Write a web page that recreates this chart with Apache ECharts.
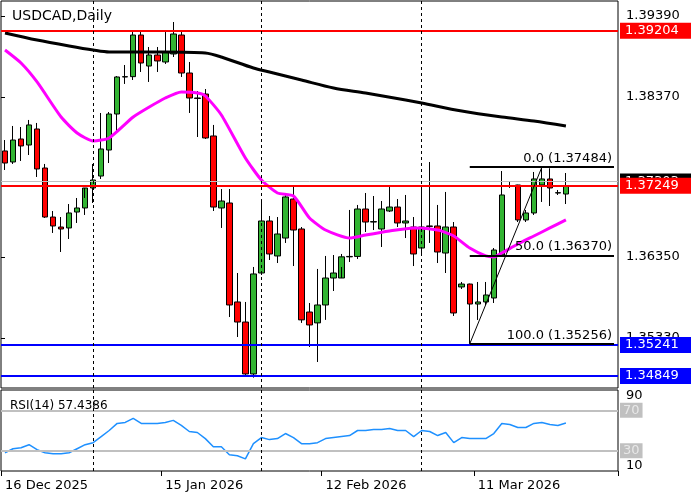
<!DOCTYPE html>
<html>
<head>
<meta charset="utf-8">
<script src="https://cdn.jsdelivr.net/npm/echarts@6/dist/echarts.min.js"></script>
<style>html,body{margin:0;padding:0;background:#fff}#chart{width:700px;height:500px}</style>
</head>
<body>
<div id="chart"></div>
<script>
/* USDCAD daily with MA, fibo and RSI(14) */
var tickDates = ['16 Dec 2025', '15 Jan 2026', '12 Feb 2026', '11 Mar 2026'];
var separators = [11, 32, 52];

var opens = [1.37688,1.37549,1.37839,1.37763,1.37965,1.37473,1.36855,1.36729,1.36717,1.36918,
  1.36969,1.37221,1.37372,1.37700,1.38154,1.38621,1.38625,1.39150,1.38759,1.38898,
  1.38810,1.38911,1.39150,1.38671,1.38356,1.38406,1.37877,1.36969,1.37032,1.35784,
  1.35531,1.34876,1.36149,1.36805,1.36364,1.36590,1.37082,1.36704,1.35657,1.35520,
  1.35746,1.36086,1.36086,1.36353,1.36358,1.36956,1.36792,1.36704,1.36931,1.36981,
  1.36780,1.36729,1.36464,1.36742,1.36742,1.36401,1.36729,1.35973,1.36010,1.35758,
  1.35784,1.35834,1.36376,1.37247,1.37259,1.36818,1.36906,1.37259,1.37335,1.37158,1.37145];
var closes = [1.37536,1.37826,1.37751,1.38016,1.37461,1.36855,1.36742,1.36704,1.36906,1.36969,
  1.37221,1.37322,1.37713,1.38154,1.38621,1.38625,1.39150,1.38797,1.38898,1.38823,
  1.38936,1.39163,1.38671,1.38356,1.38350,1.37852,1.36981,1.37057,1.35746,1.35531,
  1.34876,1.36137,1.36805,1.36389,1.36641,1.37108,1.36691,1.35558,1.35494,1.35746,
  1.36086,1.36149,1.36353,1.36358,1.36956,1.36792,1.36797,1.36956,1.36981,1.36780,
  1.36805,1.36389,1.36729,1.36737,1.36414,1.36729,1.35645,1.36010,1.35758,1.35784,
  1.35872,1.36439,1.37133,1.37250,1.36818,1.36906,1.37335,1.37335,1.37221,1.37162,1.37249];
var lows = [1.37448,1.37524,1.37562,1.37637,1.37360,1.36843,1.36654,1.36414,1.36578,1.36780,
  1.36881,1.37032,1.37335,1.37536,1.37915,1.38533,1.38583,1.38684,1.38558,1.38684,
  1.38785,1.38873,1.38621,1.38167,1.37864,1.37839,1.36931,1.36717,1.35594,1.35342,
  1.34863,1.34830,1.36124,1.36313,1.36275,1.36528,1.36237,1.35520,1.35216,1.35027,
  1.35558,1.35922,1.36225,1.36288,1.36326,1.36666,1.36691,1.36477,1.36918,1.36729,
  1.36590,1.36237,1.36376,1.36528,1.36275,1.36149,1.35607,1.35947,1.35256,1.35557,
  1.35746,1.35771,1.36370,1.37221,1.36792,1.36792,1.36881,1.37045,1.36994,1.37133,1.37019];
var highs = [1.37826,1.38003,1.37990,1.38079,1.38041,1.37524,1.36931,1.36855,1.37019,1.37095,
  1.37095,1.37524,1.38167,1.38179,1.38633,1.38772,1.39188,1.39188,1.38999,1.38999,
  1.39188,1.39314,1.39188,1.38810,1.38444,1.38469,1.38016,1.37208,1.37208,1.36149,
  1.35784,1.36225,1.37070,1.36868,1.36855,1.37133,1.37246,1.36729,1.35771,1.36200,
  1.36364,1.36376,1.36389,1.36944,1.37007,1.37158,1.37120,1.37057,1.37246,1.37082,
  1.37133,1.36855,1.37221,1.37549,1.37007,1.37171,1.36792,1.36036,1.36015,1.36036,
  1.36036,1.36464,1.37435,1.37297,1.37262,1.36944,1.37423,1.37484,1.37470,1.37196,1.37410];

// [candle index, value] samples
var maSlow = [[0,1.39176],[4,1.39087],[8,1.39012],[11,1.38961],[13,1.38936],[20,1.38936],[25,1.38923],
  [27,1.38873],[31,1.38734],[33,1.38684],[37,1.38583],[41,1.38482],[45,1.38419],[50,1.38331],
  [52,1.38293],[57,1.38192],[62,1.38116],[66,1.38066],[70,1.38003]];
var maFast = [[0,1.38961],[2,1.38797],[4,1.38558],[7,1.38116],[9,1.37915],[11,1.37814],[13,1.37852],
  [16,1.38116],[18,1.38242],[20,1.38356],[22,1.38432],[24,1.38419],[25,1.38381],[27,1.38142],
  [30,1.37599],[32,1.37322],[34,1.37158],[36,1.37120],[38,1.36843],[40,1.36691],[43,1.36590],
  [45,1.36628],[48,1.36679],[51,1.36717],[54,1.36691],[56,1.36616],[58,1.36464],[60,1.36364],
  [61,1.36351],[62,1.36401],[64,1.36515],[66,1.36616],[68,1.36717],[70,1.36818]];

var rsi = [28,32,33,36,31,28,27,27,28,32,36,38,44,50,57,58,62,57,57,57,58,60,55,49,48,42,34,34,26,25,
  22,37,43,41,42,47,43,37,37,38,42,43,44,45,50,50,51,51,52,50,50,44,50,49,45,48,38,43,42,42,
  42,47,57,56,53,53,57,58,56,55,57.4386];

var hLines = [
  {v: 1.37303, c: '#c0c0c0', bg: '#000', w: 1},
  {v: 1.39204, c: '#ff0000', bg: '#ff0000', w: 2},
  {v: 1.37249, c: '#ff0000', bg: '#ff0000', w: 2},
  {v: 1.35241, c: '#0000ff', bg: '#0000ff', w: 2},
  {v: 1.34849, c: '#0000ff', bg: '#0000ff', w: 2}
];
var fibo = [{lvl: '0.0', v: 1.37484}, {lvl: '50.0', v: 1.36370}, {lvl: '100.0', v: 1.35256}];

// trading-day categories (no weekends, no 25 Dec / 1 Jan), plus empty space on the right
var months = ['Jan','Feb','Mar','Apr','May','Jun','Jul','Aug','Sep','Oct','Nov','Dec'];
var cats = [];
var d = new Date(2025, 11, 16);
while (cats.length < 77) {
  var wd = d.getDay();
  var skip = wd == 0 || wd == 6 || (d.getMonth() == 11 && d.getDate() == 25) || (d.getMonth() == 0 && d.getDate() == 1);
  if (!skip) cats.push(d.getDate() + ' ' + months[d.getMonth()] + ' ' + d.getFullYear());
  d.setDate(d.getDate() + 1);
}

var candles = [];
for (var i = 0; i < opens.length; i++) candles.push([opens[i], closes[i], lows[i], highs[i]]);

var font = 'DejaVu Sans';
var last = cats.length - 1;

// full-width horizontal lines, drawn on a hidden 0..1 x axis
var priceLines = hLines.map(function(h) {
  return [
    {coord: [0, h.v], lineStyle: {color: h.c, width: h.w, type: 'solid'},
      label: {show: true, position: 'end', distance: 2, formatter: h.v.toFixed(5), color: '#fff',
        backgroundColor: h.bg, padding: [2, 4, 1, 5], fontSize: 13, fontFamily: font, width: 62}},
    {coord: [1, h.v]}
  ];
});

var sepLines = separators.map(function(s) {
  return {xAxis: s, lineStyle: {color: '#000', width: 1, type: [3, 3]}, label: {show: false}};
});

var fiboLines = fibo.map(function(f) {
  return [
    {coord: [58, f.v], lineStyle: {color: '#000', width: 2, type: 'solid'},
      label: {show: true, position: 'insideEndTop', distance: [2, 2], formatter: f.lvl + ' (' + f.v.toFixed(5) + ')',
        color: '#000', fontSize: 13, fontFamily: font}},
    {coord: [last, f.v]}
  ];
});
fiboLines.push([
  {coord: [58, 1.35256], lineStyle: {color: '#000', width: 1, type: 'solid'}, label: {show: false}},
  {coord: [67, 1.37484]}
]);

var option = {
  backgroundColor: '#fff',
  animation: false,
  title: [
    {text: 'USDCAD,Daily', left: 7, top: 4, textStyle: {fontSize: 14, fontWeight: 'normal', fontFamily: font, color: '#000'}},
    {text: 'RSI(14) 57.4386', left: 5, top: 395, textStyle: {fontSize: 12, fontWeight: 'normal', fontFamily: font, color: '#000'}}
  ],
  grid: [
    {left: 1, right: 82, top: 1, height: 387, show: true, borderColor: '#000', borderWidth: 1},
    {left: 1, right: 82, top: 390, height: 81, show: true, borderColor: '#000', borderWidth: 1}
  ],
  xAxis: [
    {type: 'category', gridIndex: 0, data: cats, boundaryGap: true,
      axisLine: {show: false}, axisTick: {show: false}, axisLabel: {show: false}, splitLine: {show: false}},
    {type: 'category', gridIndex: 1, data: cats, boundaryGap: true,
      axisLine: {show: false},
      axisTick: {show: true, length: 5, lineStyle: {color: '#000'},
        interval: function(idx, v) { return tickDates.indexOf(v) >= 0; }},
      axisLabel: {show: true, align: 'left', margin: 8, color: '#000', fontSize: 13, fontFamily: font,
        interval: function(idx, v) { return tickDates.indexOf(v) >= 0; }},
      splitLine: {show: false}},
    {type: 'value', gridIndex: 0, min: 0, max: 1, show: false}
  ],
  yAxis: [
    {type: 'value', gridIndex: 0, position: 'right', min: 1.34699, max: 1.39579,
      axisLine: {show: false}, splitLine: {show: false},
      axisTick: {show: true, length: 4, lineStyle: {color: '#000'}, customValues: [1.3939, 1.3837, 1.3635, 1.3533]},
      axisLabel: {show: true, margin: 8, color: '#000', fontSize: 13, fontFamily: font,
        customValues: [1.3939, 1.3837, 1.3635, 1.3533],
        formatter: function(v) { return v.toFixed(5); }}},
    {type: 'value', gridIndex: 1, position: 'right', min: 10, max: 90,
      axisLine: {show: false}, splitLine: {show: false},
      axisTick: {show: false},
      axisLabel: {show: true, margin: 8, color: '#000', fontSize: 13, fontFamily: font, customValues: [15, 84],
        formatter: function(v) { return v > 50 ? '90' : '10'; }}}
  ],
  series: [
    {type: 'line', xAxisIndex: 2, yAxisIndex: 0, data: [], silent: true,
      markLine: {symbol: 'none', silent: true, animation: false, precision: 5, data: priceLines}},
    {type: 'candlestick', xAxisIndex: 0, yAxisIndex: 0, data: candles, barWidth: 6,
      itemStyle: {color: '#32b432', color0: '#ff0000', borderColor: '#000', borderColor0: '#000', borderWidth: 1},
      markLine: {symbol: 'none', silent: true, animation: false, precision: 5, data: sepLines.concat(fiboLines)}},
    {type: 'line', xAxisIndex: 0, yAxisIndex: 0, data: maSlow, showSymbol: false, smooth: 0.3,
      lineStyle: {color: '#000', width: 3}},
    {type: 'line', xAxisIndex: 0, yAxisIndex: 0, data: maFast, showSymbol: false, smooth: 0.2,
      lineStyle: {color: '#ff00ff', width: 3}},
    {type: 'line', xAxisIndex: 1, yAxisIndex: 1, data: rsi, showSymbol: false,
      lineStyle: {color: '#1e90ff', width: 1.5},
      markLine: {symbol: 'none', silent: true, animation: false, data: [
        {yAxis: 70, lineStyle: {color: '#c0c0c0', width: 2, type: 'solid'},
          label: {show: true, position: 'end', distance: 2, formatter: '70', color: '#e8e8e8', backgroundColor: '#c0c0c0', fontSize: 13, fontFamily: font, padding: [1, 3]}},
        {yAxis: 30, lineStyle: {color: '#c0c0c0', width: 2, type: 'solid'},
          label: {show: true, position: 'end', distance: 2, formatter: '30', color: '#e8e8e8', backgroundColor: '#c0c0c0', fontSize: 13, fontFamily: font, padding: [1, 3]}}
      ].concat(sepLines)}}
  ]
};

echarts.init(document.getElementById('chart')).setOption(option);
</script>
</body>
</html>
